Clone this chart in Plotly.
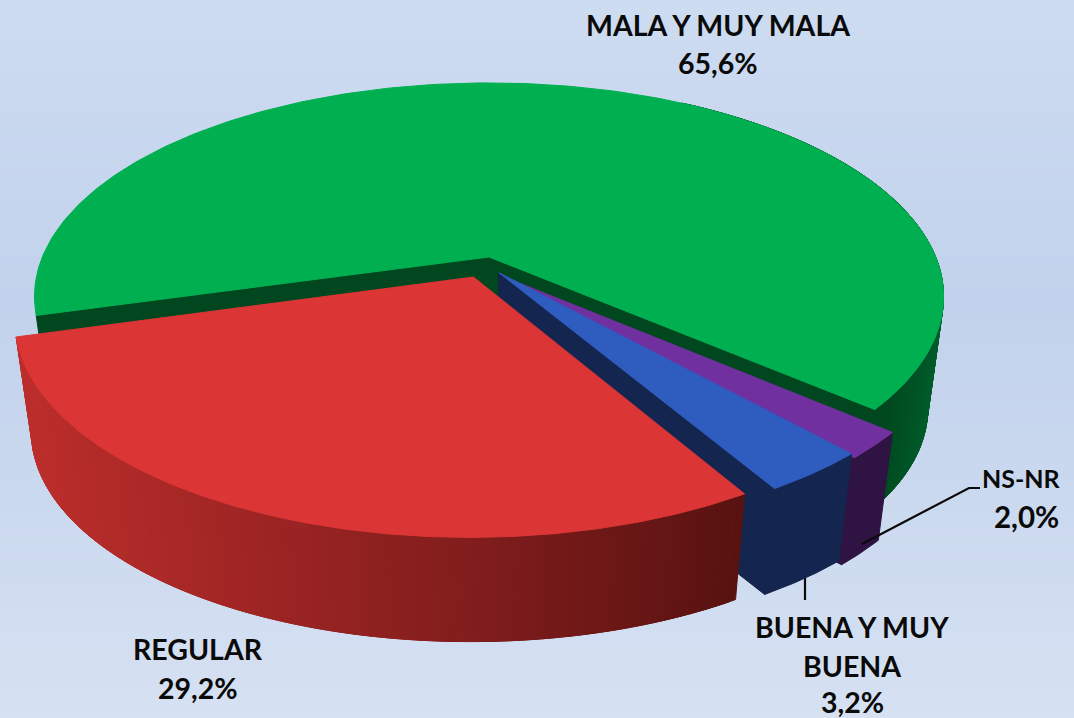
import numpy as np
import plotly.graph_objects as go

# Data
categories = ["MALA Y MUY MALA", "NS-NR", "BUENA Y MUY BUENA", "REGULAR"]
values = [65.6, 2.0, 3.2, 29.2]
value_labels = ["65,6%", "2,0%", "3,2%", "29,2%"]
top_colors = ["#00b050", "#7030a0", "#2e5cbf", "#db3535"]
wall_colors = ["#00471f", "#2f1342", "#14264f", "#5a1312"]

# Projection of the tilted disc into the picture
CX, CY, A, B, P = 489.0, 257.0, 448.0, 207.0, 0.186
K, D = 0.965, 114.0
START = 164.4
offsets = [(0.0, 0.0), (0.022, 0.085), (0.022, 0.075), (-0.034, 0.095)]
radii = [0.997, 0.995, 0.99, 0.987]


def project(X, Y, low=False):
    s = 1 / (1 - P * Y)
    x, y = A * X * s, B * Y * s
    if low:
        return CX + K * x, CY + K * y + D
    return CX + x, CY + y


def rim(i, t):
    r = np.radians(t)
    return offsets[i][0] + radii[i] * np.cos(r), offsets[i][1] + radii[i] * np.sin(r)


def arc(i, t0, t1, n=160):
    return rim(i, np.linspace(t0, t1, n))


def poly(fig, x, y, color):
    fig.add_trace(go.Scatter(x=np.r_[x, x[0]], y=np.r_[y, y[0]], mode="lines", fill="toself",
                             fillcolor=color, line=dict(color=color, width=1), hoverinfo="skip"))


def hex2rgb(c):
    return np.array([int(c[i:i + 2], 16) for i in (1, 3, 5)], float)


def grad(stops, x):
    xs = [s[0] for s in stops]
    rgb = [np.interp(x, xs, [hex2rgb(s[1])[k] for s in stops]) for k in range(3)]
    return "rgb(%d,%d,%d)" % tuple(rgb)


def outer_wall(fig, i, t0, t1, stops=None):
    X, Y = arc(i, t0, t1, 120)
    xt, yt = project(X, Y)
    xb, yb = project(X, Y, True)
    if stops is None:
        poly(fig, np.r_[xt, xb[::-1]], np.r_[yt, yb[::-1]], wall_colors[i])
        return
    for j in range(len(xt) - 1):
        e = min(j + 2, len(xt) - 1)
        poly(fig, np.array([xt[j], xt[e], xb[e], xb[j]]), np.array([yt[j], yt[e], yb[e], yb[j]]),
             grad(stops, (xt[j] + xb[j]) / 2))


def cut_wall(fig, i, t):
    ox, oy = offsets[i]
    X, Y = rim(i, t)
    a, b = project(ox, oy), project(X, Y)
    c, d = project(X, Y, True), project(ox, oy, True)
    poly(fig, np.array([a[0], b[0], c[0], d[0]]), np.array([a[1], b[1], c[1], d[1]]), wall_colors[i])


def top(fig, i, t0, t1):
    X, Y = arc(i, t0, t1, 240)
    x, y = project(X, Y)
    ax, ay = project(*offsets[i])
    poly(fig, np.r_[ax, x], np.r_[ay, y], top_colors[i])


fig = go.Figure()

# Background gradient
bg_y = np.linspace(0, 718, 120)
fig.add_trace(go.Heatmap(x=[0, 1074], y=bg_y, z=np.c_[bg_y, bg_y], showscale=False, hoverinfo="skip",
                         zmin=0, zmax=718,
                         colorscale=[[0, "#cedcf1"], [0.42, "#c1d2ec"], [1, "#d6e1f2"]]))

edges = START + np.r_[0, np.cumsum(values)] * 3.6
G, U, N, R = 0, 1, 2, 3

# Green: walls first, everything else sits on top of them
outer_wall(fig, G, 300, edges[1], [(880, "#00471f"), (940, "#005f2d")])
cut_wall(fig, G, edges[0])
cut_wall(fig, G, edges[1])
top(fig, G, edges[0], edges[1])
# Purple
outer_wall(fig, U, edges[1], edges[2])
cut_wall(fig, U, edges[2])
top(fig, U, edges[1], edges[2])
# Blue
cut_wall(fig, N, edges[3])
outer_wall(fig, N, edges[2], edges[3])
top(fig, N, edges[2], edges[3])
# Red
outer_wall(fig, R, edges[3], edges[4],
           [(25, "#bd2f2c"), (250, "#a02625"), (500, "#7e1d1c"), (745, "#581311")])
top(fig, R, edges[3], edges[4])

labels = [
    (718, 25, categories[0], 28.5),
    (718, 63, value_labels[0], 28.5),
    (1021, 478, categories[1], 25),
    (1026, 516, value_labels[1], 29.5),
    (852, 627, "BUENA Y MUY", 28.5),
    (852, 666, "BUENA", 28.5),
    (852, 702, value_labels[2], 28.5),
    (198, 649, categories[3], 28.5),
    (198, 688, value_labels[3], 28.5),
]
for x, y, t, size in labels:
    fig.add_annotation(x=x, y=y, text=f"<b>{t}</b>", showarrow=False, xanchor="center", yanchor="middle",
                       align="center", font=dict(family="Lato", size=size, color="#0a0a0a"),
                       xref="x", yref="y")

fig.add_shape(type="path", path="M 862 544 L 969 488 L 980 488", line=dict(color="#0a0a0a", width=2.2))
fig.add_shape(type="line", x0=805, x1=805, y0=578, y1=600, line=dict(color="#0a0a0a", width=2.2))

fig.update_layout(width=1074, height=718, margin=dict(l=0, r=0, t=0, b=0), showlegend=False,
                  paper_bgcolor="#c8d6ee", plot_bgcolor="#c8d6ee",
                  xaxis=dict(range=[0, 1074], visible=False, fixedrange=True),
                  yaxis=dict(range=[718, 0], visible=False, fixedrange=True))
fig.write_html("out.html", config={"displayModeBar": False},
               post_script="document.body.style.margin='0';")
